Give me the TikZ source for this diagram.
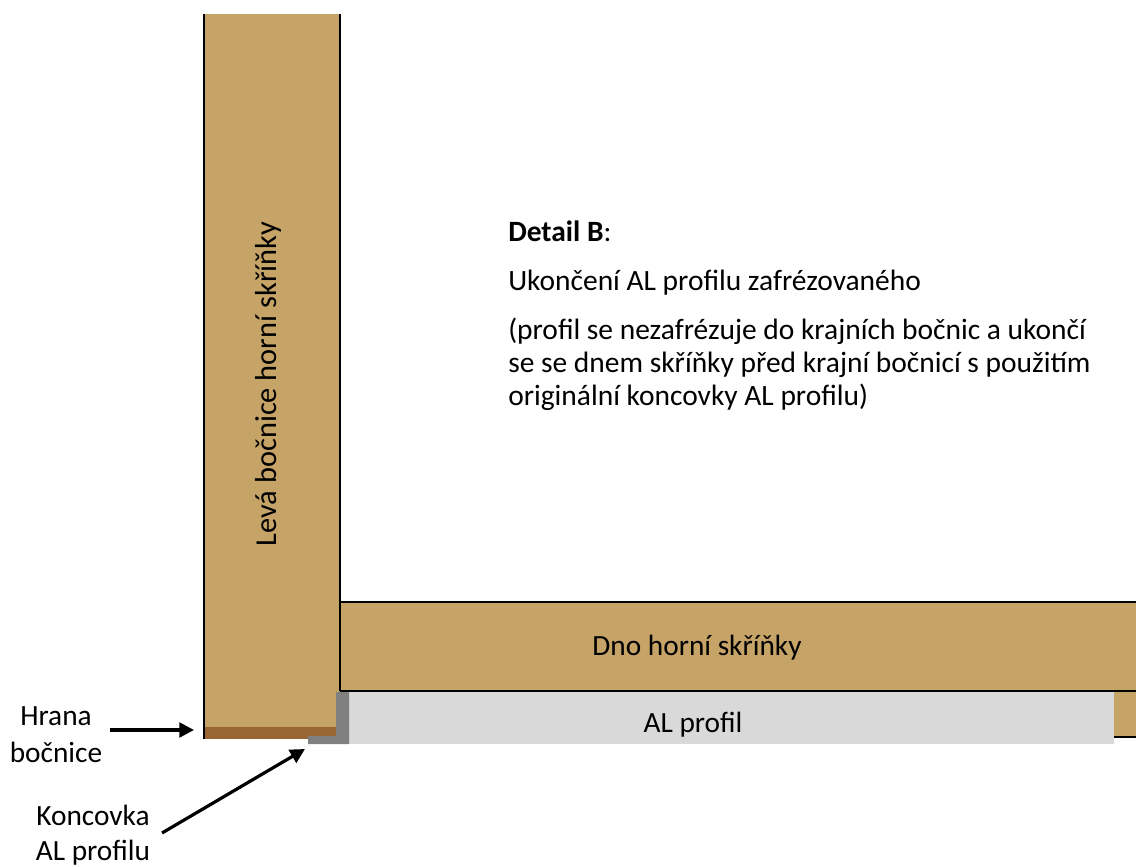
\documentclass[tikz,border=0pt]{standalone}
\usepackage{fontspec}
\setmainfont{Carlito}
\usetikzlibrary{arrows.meta}
\definecolor{wood}{RGB}{198,163,103}
\definecolor{edgeb}{RGB}{153,102,51}
\definecolor{alu}{RGB}{217,217,217}
\definecolor{capg}{RGB}{128,128,128}
\tikzset{
  x=0.75pt,y=-0.75pt,
  woodfill/.style={fill=wood,draw=none},
  outline/.style={draw=black,line width=1.5pt,line cap=butt},
  lbl/.style={font=\fontsize{22pt}{27.75pt}\selectfont,text=black,inner sep=0pt,align=center},
  para/.style={font=\fontsize{22.1pt}{26pt}\selectfont,text=black,inner sep=0pt,anchor=base west,align=left},
  pointer/.style={draw=black,line width=2.4pt,-{Triangle[length=11pt,width=11pt]},shorten >=0pt}
}
\begin{document}
\begin{tikzpicture}
\useasboundingbox (0,0) rectangle (1136,867);
% boards
\fill[woodfill] (204,14) rectangle (340,737);
\fill[woodfill] (340,601) rectangle (1136,737);
% aluminium profile
\fill[alu] (349,692) rectangle (1114,744);
% side edge
\fill[edgeb] (204,727) rectangle (336,739);
% outlines
\draw[outline] (204,14) -- (204,739);
\draw[outline] (340,14) -- (340,691);
\draw[outline] (340,601.5) -- (1136,601.5);
\draw[outline] (340,691) -- (1136,691);
\draw[outline] (1114,737) -- (1136,737);
% end cap
\fill[capg] (336,692) -- (349,692) -- (349,744) -- (308,744) -- (308,736) -- (336,736) -- cycle;
% labels
\node[lbl,rotate=90,font=\fontsize{22.8pt}{27pt}\selectfont] (side) at (268,384) {Levá bočnice horní skříňky};
\node[lbl] (bottom) at (697,648) {Dno horní skříňky};
\node[lbl] (profile) at (693,725) {AL profil};
\node[lbl] (edge) at (56,734.5) {Hrana\\bočnice};
\node[lbl,font=\fontsize{22pt}{26pt}\selectfont] (cap) at (93,835) {Koncovka\\AL profilu};
\node[para] (t1) at (508,241) {\textbf{Detail B}:};
\node[para] (t2) at (508,290) {Ukončení AL profilu zafrézovaného};
\node[para] (t3) at (508,339) {(profil se nezafrézuje do krajních bočnic a ukončí};
\node[para] (t4) at (508,372) {se se dnem skříňky před krajní bočnicí s použitím};
\node[para] (t5) at (508,405) {originální koncovky AL profilu)};
% pointers
\coordinate (edgeFrom) at (110,730);
\coordinate (edgeTo) at (194,730);
\coordinate (capFrom) at (162,833);
\coordinate (capTo) at (305,749);
\draw[pointer] (edgeFrom) -- (edgeTo);
\draw[pointer] (capFrom) -- (capTo);
\end{tikzpicture}
\end{document}
